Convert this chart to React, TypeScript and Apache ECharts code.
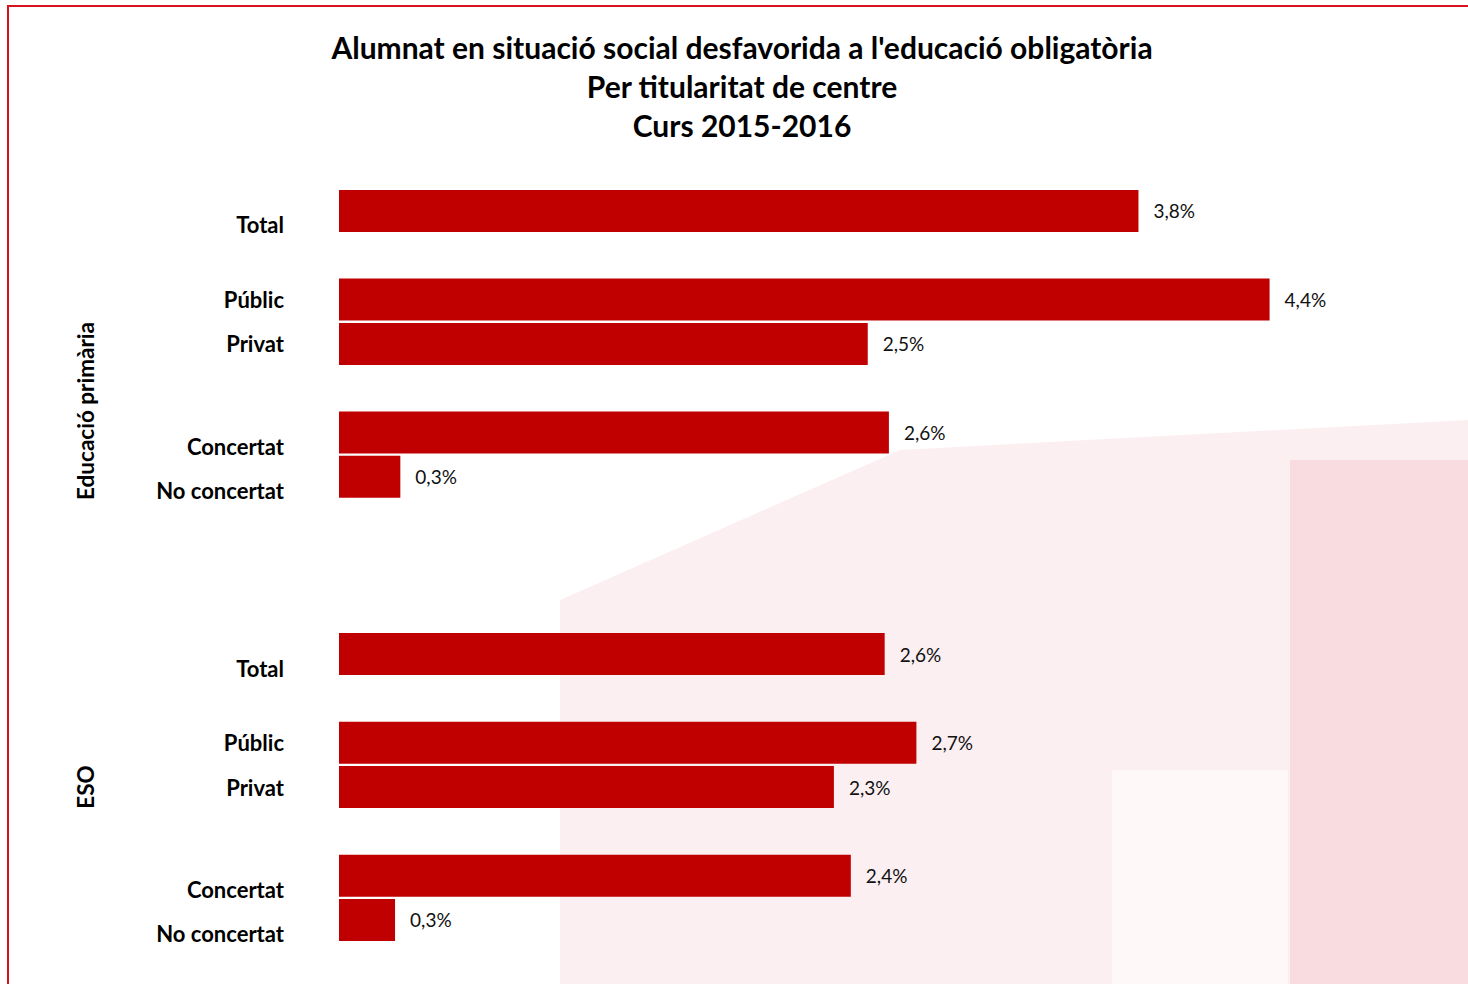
import React, { useEffect, useRef } from "react";
import * as echarts from "echarts";

const titleLines = [
  "Alumnat en situació social desfavorida a l'educació obligatòria",
  "Per titularitat de centre",
  "Curs 2015-2016",
];

// category slots (empty strings are spacing rows)
const categories = [
  "Total", "", "Públic", "Privat", "", "Concertat", "No concertat",
  "", "", "",
  "Total", "", "Públic", "Privat", "", "Concertat", "No concertat",
];

// percentage values (null = gap row)
const values = [
  3.78, null, 4.4, 2.5, null, 2.6, 0.29,
  null, null, null,
  2.58, null, 2.73, 2.34, null, 2.42, 0.265,
];

const groupLabels = ["Educació primària", "ESO"];

const FONT = "Lato, 'Open Sans', sans-serif";

export default function App() {
  const ref = useRef<HTMLDivElement>(null);
  useEffect(() => {
    if (!ref.current) return;
    const chart = echarts.init(ref.current, null, { renderer: "svg" });
    const labelBase = { fontSize: 22, fontWeight: "bold", fontFamily: FONT, color: "#000" };
    chart.setOption({
      animation: false,
      backgroundColor: "#ffffff",
      title: {
        text: titleLines.join("\n"),
        left: 737,
        top: 22,
        textAlign: "center",
        textStyle: {
          fontFamily: FONT,
          fontWeight: "bold",
          fontSize: 30,
          lineHeight: 39,
          color: "#000",
        },
      },
      grid: { left: 339, top: 188.8, width: 1057.5, height: 753.3, containLabel: false },
      xAxis: { type: "value", min: 0, max: 5, show: false },
      yAxis: {
        type: "category",
        inverse: true,
        data: categories,
        axisLine: { show: false },
        axisTick: { show: false },
        splitLine: { show: false },
        axisLabel: {
          margin: 55,
          interval: 0,
          formatter: (name: string) =>
            name === "" ? "" : name === "Públic" || name === "Privat" ? `{a|${name}}` : `{b|${name}}`,
          rich: {
            a: { ...labelBase },
            b: { ...labelBase, padding: [28, 0, 0, 0] },
          },
        },
      },
      graphic: [
        // faint watermark approximation
        {
          type: "polygon",
          z: -10,
          silent: true,
          shape: { points: [[560, 984], [560, 600], [900, 450], [1468, 420], [1468, 984]] },
          style: { fill: "#FCEFF1" },
        },
        {
          type: "rect",
          z: -9,
          silent: true,
          shape: { x: 1290, y: 460, width: 180, height: 530 },
          style: { fill: "#F9DCE0" },
        },
        {
          type: "rect",
          z: -9,
          silent: true,
          shape: { x: 1112, y: 770, width: 176, height: 220 },
          style: { fill: "#FEF8F9" },
        },
        // border
        {
          type: "rect",
          z: 10,
          silent: true,
          shape: { x: 8, y: 6, width: 1480, height: 1000 },
          style: { fill: "none", stroke: "#D9121F", lineWidth: 2 },
        },
        {
          type: "text",
          x: 85,
          y: 411,
          rotation: Math.PI / 2,
          style: {
            text: groupLabels[0],
            x: 0,
            y: 0,
            align: "center",
            verticalAlign: "middle",
            fontFamily: FONT,
            fontWeight: "bold",
            fontSize: 22.5,
            fill: "#000",
          },
        },
        {
          type: "text",
          x: 85,
          y: 787,
          rotation: Math.PI / 2,
          style: {
            text: groupLabels[1],
            x: 0,
            y: 0,
            align: "center",
            verticalAlign: "middle",
            fontFamily: FONT,
            fontWeight: "bold",
            fontSize: 22.5,
            fill: "#000",
          },
        },
      ],
      series: [
        {
          type: "bar",
          data: values,
          barWidth: 42,
          itemStyle: { color: "#C00000" },
          label: {
            show: true,
            position: "right",
            distance: 15,
            fontFamily: FONT,
            fontSize: 19,
            color: "#111",
            formatter: (p: any) => (p.value == null ? "" : p.value.toFixed(1).replace(".", ",") + "%"),
          },
        },
      ],
    });
    return () => chart.dispose();
  }, []);
  return (
    <div
      ref={ref}
      style={{ position: "fixed", left: 0, top: 0, width: 1468, height: 984 }}
    />
  );
}
